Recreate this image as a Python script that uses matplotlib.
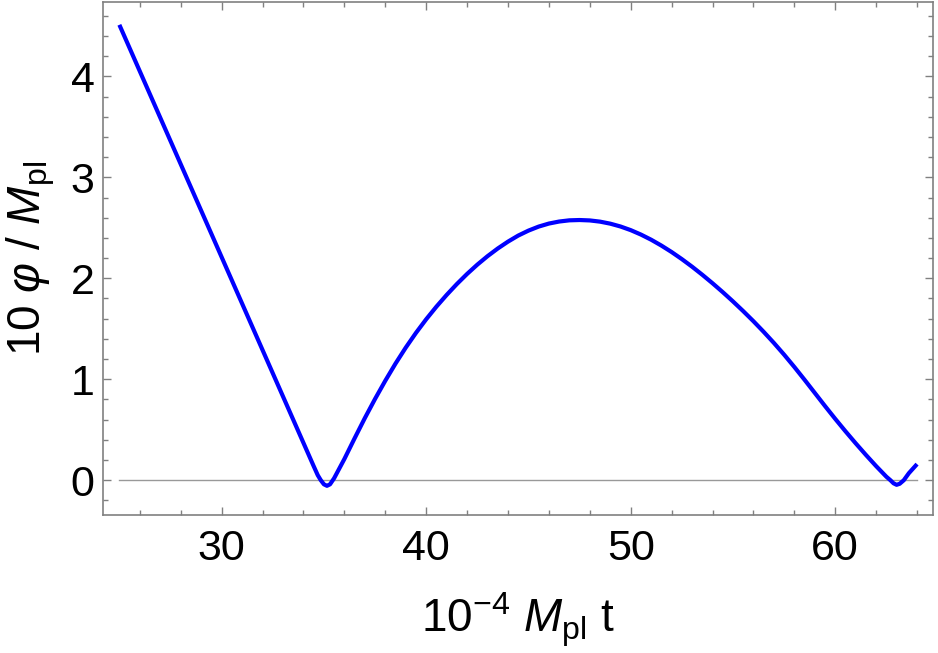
import matplotlib
matplotlib.use("Agg")
import matplotlib.pyplot as plt
from matplotlib.ticker import MultipleLocator

plt.rcParams['font.family'] = ['Liberation Sans', 'DejaVu Sans']
plt.rcParams['mathtext.fontset'] = 'custom'
plt.rcParams['mathtext.rm'] = 'Liberation Sans'
plt.rcParams['mathtext.it'] = 'Liberation Sans:italic'
plt.rcParams['mathtext.bf'] = 'Liberation Sans:bold'

# data
t = [25.0, 26.0, 27.0, 28.0, 29.0, 30.0, 31.0, 32.0, 33.0, 34.0, 34.5, 34.7,
     34.85, 35.0, 35.15, 35.3, 35.5, 35.75, 36.0, 36.5, 37.0, 37.5, 38.0,
     38.5, 39.0, 39.5, 40.0, 40.5, 41.0, 41.5, 42.0, 42.5, 43.0, 43.5, 44.0,
     44.5, 45.0, 45.5, 46.0, 46.5, 47.0, 47.5, 48.0, 48.5, 49.0, 49.5, 50.0,
     50.5, 51.0, 51.5, 52.0, 52.5, 53.0, 53.5, 54.0, 54.5, 55.0, 55.5, 56.0,
     56.5, 57.0, 57.5, 58.0, 58.5, 59.0, 59.5, 60.0, 60.5, 61.0, 61.5, 62.0,
     62.5, 62.7, 62.85, 63.0, 63.15, 63.35, 63.6, 64.0]
phi = [4.51, 4.05, 3.59, 3.13, 2.67, 2.21, 1.75, 1.29, 0.83, 0.37, 0.14, 0.05,
       0.0, -0.04, -0.055, -0.04, 0.02, 0.115, 0.21, 0.415, 0.615, 0.805,
       0.985, 1.155, 1.313, 1.459, 1.594, 1.719, 1.835, 1.943, 2.043, 2.135,
       2.219, 2.295, 2.363, 2.423, 2.472, 2.512, 2.542, 2.562, 2.574, 2.577,
       2.573, 2.561, 2.541, 2.513, 2.477, 2.433, 2.382, 2.324, 2.260, 2.190,
       2.115, 2.035, 1.951, 1.863, 1.771, 1.675, 1.575, 1.470, 1.360, 1.244,
       1.122, 0.995, 0.865, 0.735, 0.608, 0.485, 0.366, 0.251, 0.140, 0.035,
       0.0, -0.03, -0.045, -0.035, 0.0, 0.07, 0.16]

xticks = [30, 40, 50, 60]
yticks = [0, 1, 2, 3, 4]
xlabel = r"$10^{-4}$ $M_{\mathrm{pl}}$ t"
ylabel = r"10 $\varphi$ / $M_{\mathrm{pl}}$"

W, H = 938, 653
fig = plt.figure(figsize=(W / 100, H / 100), dpi=100)
ax = fig.add_axes([103 / W, 1 - 515 / H, (933 - 103) / W, (515 - 2) / H])

ax.plot([min(t), max(t)], [0, 0], color='#999999', lw=1.0, zorder=1)
ax.plot(t, phi, color='#0000ff', lw=3.0, solid_capstyle='butt',
        solid_joinstyle='round', zorder=3)

ax.set_xlim(24.20, 64.78)
ax.set_ylim(-0.344, 4.736)
ax.set_xticks(xticks)
ax.set_yticks(yticks)
ax.xaxis.set_minor_locator(MultipleLocator(2))
ax.yaxis.set_minor_locator(MultipleLocator(0.2))

gray = '#808080'
for s in ax.spines.values():
    s.set_color(gray)
    s.set_linewidth(1.2)
ax.tick_params(which='both', direction='in', top=True, right=True,
               color=gray, width=1.0, labelsize=31, labelcolor='black')
ax.tick_params(which='major', length=6)
ax.tick_params(which='minor', length=3.5)
ax.tick_params(axis='x', which='major', pad=10)
ax.tick_params(axis='y', which='major', pad=6)

ax.set_xlabel(xlabel, fontsize=33)
ax.xaxis.set_label_coords(0.5, -0.230)
ax.xaxis.label.set_va('baseline')
ax.set_ylabel(ylabel, fontsize=33)
ax.yaxis.set_label_coords(-0.0873, 0.5)
ax.yaxis.label.set_va('center')

fig.savefig('out.png', dpi=100)
